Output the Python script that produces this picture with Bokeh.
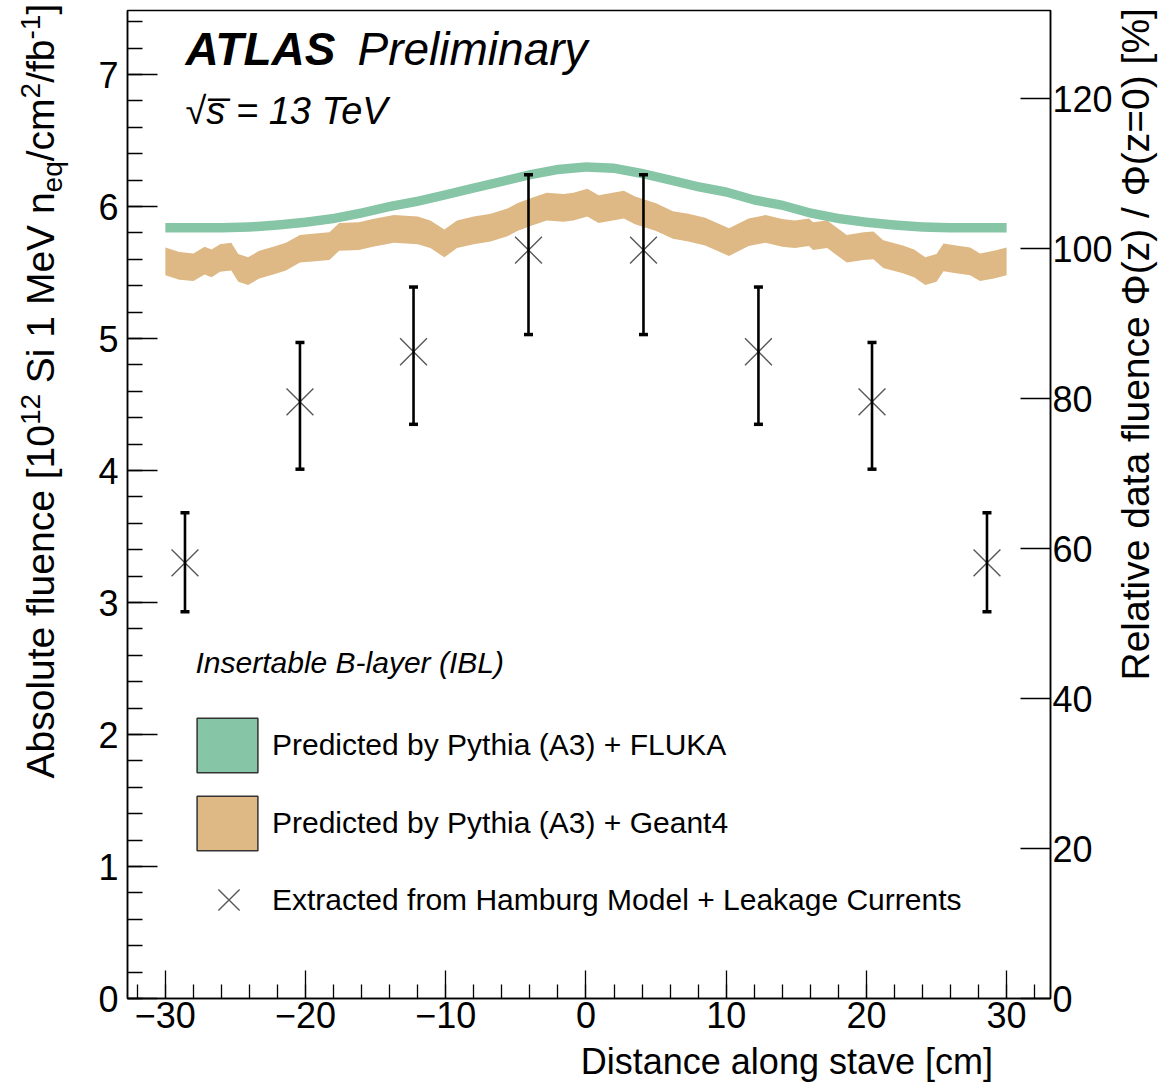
import math
import numpy as np
from bokeh.plotting import figure
from bokeh.layouts import row, column
from bokeh.models import (Range1d, LinearAxis, SingleIntervalTicker, ColumnDataSource,
                          Whisker, TeeHead, Label, Legend, LegendItem)
from bokeh.embed import file_html
from bokeh.resources import INLINE

# ---------------------------------------------------------------- data
# Pythia (A3) + FLUKA prediction, fluence [1e12 neq/cm2/fb-1] vs z [cm]
fluka_z = [-30, -28, -26, -24, -22, -20, -18, -16, -14, -12, -10, -8, -6, -4, -2,
           0, 2, 4, 6, 8, 10, 12, 14, 16, 18, 20, 22, 24, 26, 28, 30]
fluka_phi = [5.84, 5.84, 5.84, 5.845, 5.86, 5.88, 5.91, 5.95, 6.00, 6.04, 6.09, 6.14,
             6.19, 6.24, 6.28, 6.30, 6.29, 6.25, 6.20, 6.15, 6.11, 6.05, 6.01, 5.95,
             5.91, 5.88, 5.86, 5.845, 5.84, 5.84, 5.84]
fluka_halfwidth = 0.036

# Pythia (A3) + Geant4 prediction
geant4_z = [-30.0, -29.0, -28.0, -27.2, -26.7, -26.1, -25.3, -24.8, -24.1, -23.3, -22.3,
            -21.4, -20.4, -19.3, -18.3, -17.6, -16.2, -15.2, -13.7, -12.0, -11.1, -10.1,
            -9.2, -8.0, -6.8, -5.6, -4.9, -3.9, -2.8, -1.6, -0.9, 0.1, 0.9, 1.9, 2.7,
            3.5, 5.0, 6.2, 7.3, 8.5, 10.2, 11.6, 12.8, 14.0, 14.9, 15.9, 16.2, 17.2,
            18.6, 19.8, 20.5, 21.2, 22.6, 23.4, 24.2, 25.0, 25.5, 26.4, 27.4, 28.1,
            29.1, 30.0]
geant4_phi = [5.585, 5.55, 5.54, 5.59, 5.57, 5.61, 5.62, 5.535, 5.51, 5.56, 5.59,
              5.62, 5.68, 5.69, 5.70, 5.77, 5.775, 5.80, 5.83, 5.82, 5.79, 5.72,
              5.79, 5.82, 5.84, 5.88, 5.92, 5.96, 6.00, 5.99, 6.00, 6.03, 5.98, 6.00, 6.015,
              5.97, 5.92, 5.86, 5.84, 5.81, 5.73, 5.805, 5.83, 5.80, 5.79, 5.805, 5.775, 5.79,
              5.68, 5.70, 5.705, 5.64, 5.60, 5.57, 5.51, 5.535, 5.615, 5.60, 5.585, 5.54,
              5.56, 5.585]
geant4_halfwidth = 0.105

# Hamburg model + leakage current extraction
data_z = [-28.6, -20.4, -12.3, -4.1, 4.1, 12.3, 20.4, 28.6]
data_phi = [3.30, 4.52, 4.90, 5.67, 5.67, 4.90, 4.52, 3.30]
data_err_up = [0.38, 0.45, 0.49, 0.57, 0.57, 0.49, 0.45, 0.38]
data_err_down = [0.37, 0.51, 0.55, 0.64, 0.64, 0.55, 0.51, 0.37]

phi_at_zero = 5.68          # reference fluence for the relative (right) scale
x_tick_values = [-30, -20, -10, 0, 10, 20, 30]
x_tick_labels = ["\u221230", "\u221220", "\u221210", "0", "10", "20", "30"]

# ---------------------------------------------------------------- geometry / style
GREEN = "#86C5A6"
ORANGE = "#DEB985"
FONT = "Liberation Sans"
W, H = 1165, 1083
LEFT_W = 72                 # strip holding the left axis title
RIGHT_X = 1115              # strip holding the right axis title starts here
MAIN_H = 1042               # main plot height; the x title strip sits below it
FRAME_L, FRAME_R, FRAME_T, FRAME_B = 127, 1052, 10, 998
X_RANGE = (-32.7, 33.13)
Y_MAX = 7.485
BASE_SHIFT = 0.40           # Label anchor sits this many em below the glyph baseline

MAIN_W = RIGHT_X - LEFT_W
p = figure(width=MAIN_W, height=MAIN_H, output_backend="svg", toolbar_location=None,
           title=None, x_range=Range1d(*X_RANGE), y_range=Range1d(0, Y_MAX),
           min_border_left=FRAME_L - LEFT_W, min_border_right=RIGHT_X - FRAME_R,
           min_border_top=FRAME_T, min_border_bottom=MAIN_H - FRAME_B)
p.background_fill_color = "white"
p.border_fill_color = "white"
p.outline_line_color = "black"
p.outline_line_width = 1.5
p.xgrid.visible = False
p.ygrid.visible = False

# relative scale on the right
p.extra_y_ranges = {"rel": Range1d(0, Y_MAX / phi_at_zero * 100)}
right_axis = LinearAxis(y_range_name="rel")
p.add_layout(right_axis, "right")


def style_axis(ax, major_in, minor_in, standoff):
    ax.axis_line_color = "black"
    ax.axis_line_width = 1.5
    ax.major_tick_in = major_in
    ax.major_tick_out = 0
    ax.minor_tick_in = minor_in
    ax.minor_tick_out = 0
    ax.major_tick_line_color = "black"
    ax.minor_tick_line_color = "black"
    ax.major_tick_line_width = 1.3
    ax.minor_tick_line_width = 1.3
    ax.major_label_text_font = FONT
    ax.major_label_text_font_size = "36px"
    ax.major_label_text_color = "black"
    ax.major_label_standoff = standoff
    ax.axis_label = None


xaxis = p.xaxis[0]
xaxis.ticker = SingleIntervalTicker(interval=10, num_minor_ticks=5)
xaxis.major_label_overrides = dict(zip(x_tick_values, x_tick_labels))
style_axis(xaxis, 28, 14, 3)

yaxis = p.yaxis[0]
yaxis.ticker = SingleIntervalTicker(interval=1, num_minor_ticks=5)
style_axis(yaxis, 30, 15, 9)

right_axis.ticker = SingleIntervalTicker(interval=20, num_minor_ticks=0)
style_axis(right_axis, 30, 0, 2)
right_axis.minor_tick_line_color = None

# ---------------------------------------------------------------- bands
g4 = np.array(geant4_phi)
p.varea(x=geant4_z, y1=g4 - geant4_halfwidth, y2=g4 + geant4_halfwidth,
        fill_color=ORANGE, fill_alpha=1.0)
fl = np.array(fluka_phi)
p.varea(x=fluka_z, y1=fl - fluka_halfwidth, y2=fl + fluka_halfwidth,
        fill_color=GREEN, fill_alpha=1.0)

# ---------------------------------------------------------------- data points
ph = np.array(data_phi)
err_src = ColumnDataSource(dict(base=data_z,
                                lower=ph - np.array(data_err_down),
                                upper=ph + np.array(data_err_up)))
pts = p.scatter(data_z, data_phi, marker="x", size=38,
                line_color="#585858", line_width=1.4)
whisk = Whisker(source=err_src, base="base", lower="lower", upper="upper",
                dimension="height", line_color="black", line_width=2.6,
                upper_head=TeeHead(size=9, line_width=3.5, line_color="black"),
                lower_head=TeeHead(size=9, line_width=3.5, line_color="black"),
                level="annotation")
p.add_layout(whisk)

# ---------------------------------------------------------------- legend
# legend-only swatches (one NaN row, so nothing is drawn in the plot area)
nan = float("nan")
green_sw = p.quad(left=[nan], right=[nan], top=[nan], bottom=[nan], fill_color=GREEN,
                  line_color="#333333", line_width=1.5)
orange_sw = p.quad(left=[nan], right=[nan], top=[nan], bottom=[nan], fill_color=ORANGE,
                   line_color="#333333", line_width=1.5)


def fx(cx):
    return cx - FRAME_L


def fy(cy):
    return FRAME_B - cy


def make_legend(items, left, bottom, gw, gh, spacing, standoff):
    leg = Legend(items=items, location=(fx(left), fy(bottom)),
                 glyph_width=gw, glyph_height=gh, spacing=spacing, label_standoff=standoff,
                 padding=0, margin=0, border_line_alpha=0, background_fill_alpha=0,
                 label_text_font=FONT, label_text_font_size="30px",
                 label_text_color="black", label_height=gh)
    p.add_layout(leg)


make_legend([LegendItem(label="Predicted by Pythia (A3) + FLUKA", renderers=[green_sw]),
             LegendItem(label="Predicted by Pythia (A3) + Geant4", renderers=[orange_sw])],
            189, 857, 76, 68, 10, 7)
make_legend([LegendItem(label="Extracted from Hamburg Model + Leakage Currents",
                        renderers=[pts])],
            191, 937, 75, 75, 24, 6)


# ---------------------------------------------------------------- texts
def add_text(fig, text, x, y, size, style="normal", angle=0.0, align="left",
             units="screen"):
    """Place text so that (x, y) is its baseline start (y grows upward)."""
    shift = BASE_SHIFT * size
    if angle:
        x = x - shift
    else:
        y = y + shift
    fig.add_layout(Label(x=x, y=y, x_units=units, y_units=units,
                         text=text, text_font=FONT, text_font_size=f"{size}px",
                         text_font_style=style, angle=angle, text_align=align,
                         text_baseline="alphabetic", text_color="black"))


add_text(p, "ATLAS", fx(185), fy(67), 46, "bold italic")
add_text(p, "Preliminary", fx(357), fy(67), 46, "italic")
add_text(p, "\u221as\u0305 = 13 TeV", fx(185), fy(126), 38, "italic")
add_text(p, "Insertable B-layer (IBL)", fx(195), fy(674), 30, "italic")


def strip(width, height):
    f = figure(width=width, height=height, output_backend="svg", toolbar_location=None,
               title=None, x_range=Range1d(0, width), y_range=Range1d(0, height),
               min_border=0, x_axis_location=None, y_axis_location=None)
    f.outline_line_color = None
    f.background_fill_color = "white"
    f.border_fill_color = "white"
    f.grid.visible = False
    return f


# x-axis title, right-aligned under the axis
bottom_strip = strip(MAIN_W, H - MAIN_H)
add_text(bottom_strip, "Distance along stave [cm]", 1050 - LEFT_W, H - 1075, 36,
         align="right", units="data")

# right axis title, reading upwards
right_strip = strip(W - RIGHT_X, H)
add_text(right_strip, "Relative data fluence \u03a6(z) / \u03a6(z=0) [%]",
         1151 - RIGHT_X, H - 680, 39, angle=math.pi / 2, units="data")

# left axis title, laid out piece by piece (super/subscripts)
left_strip = strip(LEFT_W, H)
ARIAL = {" ": 278, "A": 667, "b": 556, "s": 500, "o": 556, "l": 222, "u": 556,
         "t": 278, "e": 556, "f": 278, "n": 556, "c": 500, "[": 278, "]": 278,
         "1": 556, "0": 556, "2": 556, "S": 667, "i": 222, "M": 833, "V": 667,
         "q": 556, "/": 278, "m": 833, "-": 333}


def text_width(s, size):
    return sum(ARIAL.get(ch, 556) for ch in s) / 1000.0 * size


MAIN, SCRIPT = 39, 28
pieces = [("Absolute fluence [10", 0, 0), ("12", 1, 0), ("Si 1 MeV n", 0, 1),
          ("eq", -1, 0), ("/cm", 0, 0), ("2", 1, 0), ("/fb", 0, 0), ("-1", 1, 0),
          ("]", 0, 0)]
cur = 778.0
for txt, shift, gap in pieces:
    size = MAIN if shift == 0 else SCRIPT
    cur -= gap * text_width(" ", MAIN)
    base_x = 56 + (-15 if shift == 1 else (7 if shift == -1 else 0))
    add_text(left_strip, txt, base_x, H - cur, size, angle=math.pi / 2, units="data")
    cur -= text_width(txt, size)

layout = row(left_strip, column(p, bottom_strip), right_strip)
open("out.html", "w").write(file_html(layout, INLINE))
